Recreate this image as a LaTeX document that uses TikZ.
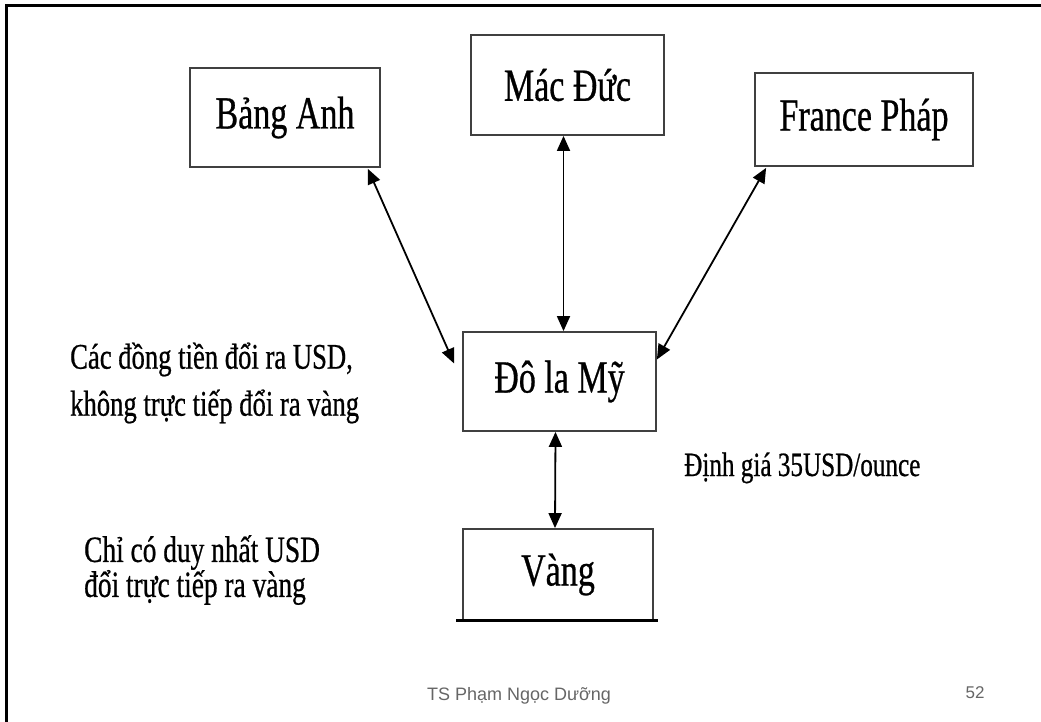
\documentclass[tikz,border=0pt]{standalone}
\usepackage{fontspec}
\setmainfont{Liberation Serif}[FakeStretch=0.74, FakeBold=0.6]
\newfontfamily\footfont{Liberation Sans}
\usetikzlibrary{positioning,calc,arrows.meta}

\tikzset{
  box/.style={draw=black!75, line width=1.8pt, inner sep=0pt,
    font=\fontsize{46}{52}\selectfont},
  note/.style={inner sep=0pt, align=left},
  link/.style={{Triangle[length=15pt,width=13pt]}-{Triangle[length=15pt,width=13pt]},
    line width=1.8pt},
}

\begin{document}
\begin{tikzpicture}[x=1pt, y=-1pt]
  \useasboundingbox (0,0) rectangle (1041,722);

  % slide frame
  \draw[line width=3pt] (6,722) -- (6,6) -- (1041,6);

  % currencies
  \node[box, minimum width=190pt, minimum height=99pt]  (bang) at (285,117.5) {Bảng Anh};
  \node[box, minimum width=193pt, minimum height=100pt] (mac)  at (567.5,85)  {Mác Đức};
  \node[box, minimum width=218pt, minimum height=93pt]  (phap) at (864,119.5) {France Pháp};
  \node[box, minimum width=193pt, minimum height=99pt]  (usd)  at (559.5,381.5) {Đô la Mỹ};
  \node[box, minimum width=190pt, minimum height=91pt]  (vang) at (558,574.5) {Vàng};
  \draw[line width=3pt] ($(vang.south west)+(-6,0)$) -- ($(vang.south east)+(4,0)$);

  % links
  \draw[link] ($(bang.south east)+(-13,1)$) -- ($(usd.west)+(-8,-18)$);
  \draw[link] ($(mac.south)+(-4,0)$) -- ($(usd.north)+(4,0)$);
  \draw[link] ($(phap.south west)+(12,1)$) -- ($(usd.east)+(0,-22)$);
  \draw[link] ($(usd.south)+(-4,0)$) -- ($(vang.north)+(-3,0)$);

  % notes
  \node[note, anchor=west, font=\fontsize{36}{47}\selectfont] (via) at (70,383)
    {Các đồng tiền đổi ra USD,\\không trực tiếp đổi ra vàng};
  \node[note, anchor=base west, font=\fontsize{34}{36}\selectfont] (price) at (684,476)
    {Định giá 35USD/ounce};
  \node[note, anchor=west, font=\fontsize{37}{35}\selectfont] (only) at (84,570)
    {Chỉ có duy nhất USD\\đổi trực tiếp ra vàng};

  % footer
  \node[inner sep=0pt, text=black!60, font=\footfont\fontsize{18}{20}\selectfont] (author) at (519,696)
    {TS Phạm Ngọc Dưỡng};
  \node[inner sep=0pt, text=black!60, font=\footfont\fontsize{17}{20}\selectfont] (page) at (975,693)
    {52};
\end{tikzpicture}
\end{document}
